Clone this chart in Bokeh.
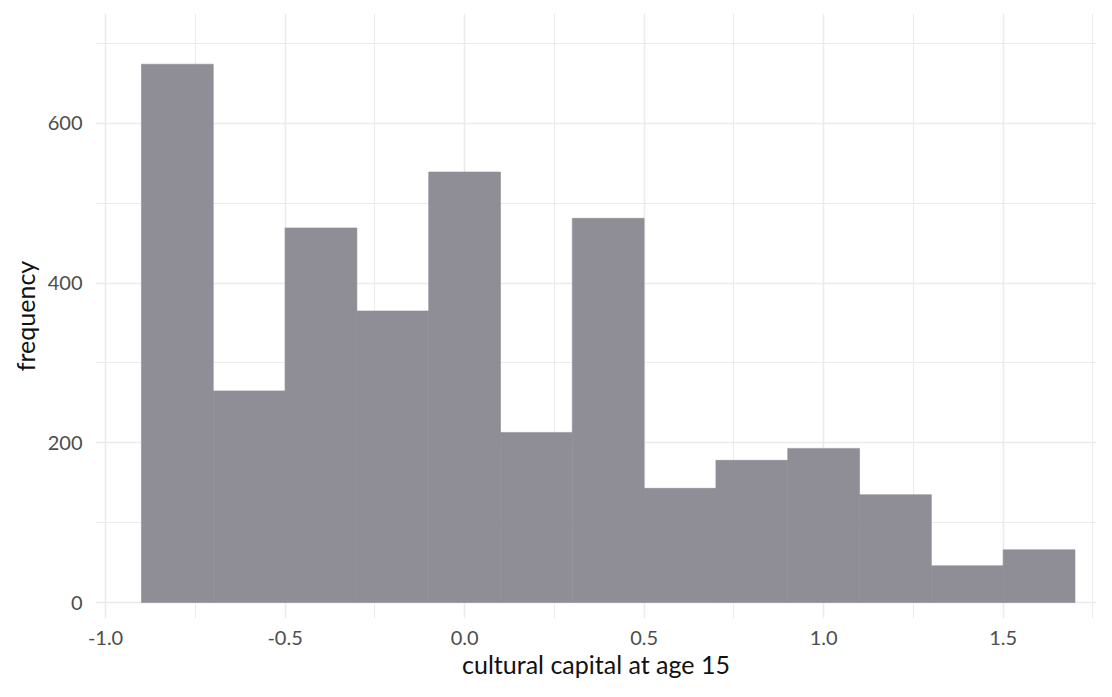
from bokeh.plotting import figure
from bokeh.models import FixedTicker, Range1d, NumeralTickFormatter, ColumnDataSource
from bokeh.embed import file_html
from bokeh.resources import INLINE

# ---- data ----
bin_edges = [-0.9, -0.7, -0.5, -0.3, -0.1, 0.1, 0.3, 0.5, 0.7, 0.9, 1.1, 1.3, 1.5, 1.7]
counts = [674, 265, 469, 365, 539, 213, 481, 143, 178, 193, 135, 46, 66]
x_major_ticks = [-1.0, -0.5, 0.0, 0.5, 1.0, 1.5]
x_minor_ticks = [-0.75, -0.25, 0.25, 0.75, 1.25, 1.75]
y_major_ticks = [0, 200, 400, 600]
y_minor_ticks = [100, 300, 500, 700]
x_title = "cultural capital at age 15"
y_title = "frequency"

src = ColumnDataSource(dict(
    left=bin_edges[:-1],
    right=bin_edges[1:],
    top=counts,
    bottom=[0] * len(counts),
))

FONT = "Lato"
BAR = "#8F8D96"

p = figure(
    width=1096, height=681,
    x_range=Range1d(-1.028, 1.760),
    y_range=Range1d(-20, 737.5),
    output_backend="svg", toolbar_location=None,
    min_border_left=95, min_border_right=0, min_border_top=13, min_border_bottom=60,
)
p.outline_line_color = None
p.background_fill_color = "white"
p.border_fill_color = "white"

p.quad(left="left", right="right", top="top", bottom="bottom", source=src,
       fill_color=BAR, line_color=BAR, line_width=0.6)

# grids
for g, maj, mnr in ((p.xgrid, x_major_ticks, x_minor_ticks), (p.ygrid, y_major_ticks, y_minor_ticks)):
    g.ticker = FixedTicker(ticks=maj, minor_ticks=mnr)
    g.grid_line_color = "#EBEBEB"
    g.grid_line_width = 1.6
    g.minor_grid_line_color = "#EBEBEB"
    g.minor_grid_line_width = 1.0

p.xaxis.ticker = FixedTicker(ticks=x_major_ticks)
p.yaxis.ticker = FixedTicker(ticks=y_major_ticks)
p.xaxis.formatter = NumeralTickFormatter(format="0.0")
p.yaxis.formatter = NumeralTickFormatter(format="0")

for ax in (p.xaxis, p.yaxis):
    ax.axis_line_color = None
    ax.major_tick_line_color = None
    ax.minor_tick_line_color = None
    ax.major_label_text_font = FONT
    ax.major_label_text_font_size = "20px"
    ax.major_label_text_color = "#4D4D4D"
    ax.axis_label_text_font = FONT
    ax.axis_label_text_font_size = "25px"
    ax.axis_label_text_font_style = "normal"
    ax.axis_label_text_color = "#111111"

p.xaxis.axis_label = x_title
p.yaxis.axis_label = y_title
p.xaxis.major_label_standoff = 6
p.yaxis.major_label_standoff = 7
p.xaxis.axis_label_standoff = 1
p.yaxis.axis_label_standoff = 5

open("out.html", "w").write(file_html(p, INLINE))
